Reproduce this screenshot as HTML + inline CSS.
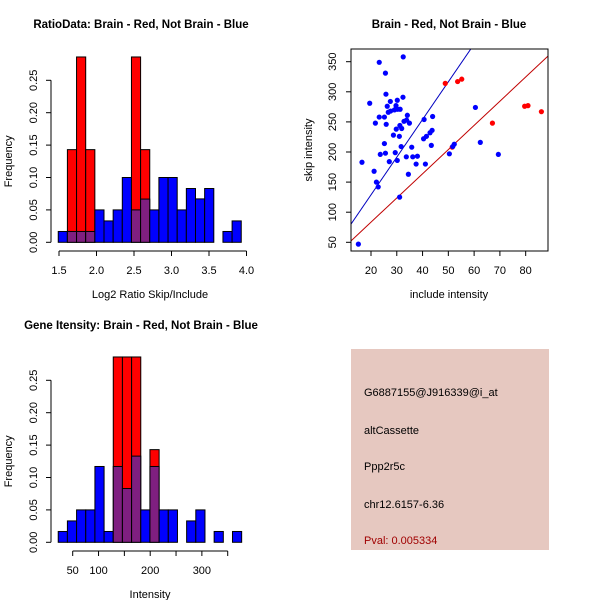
<!DOCTYPE html>
<html><head><meta charset="utf-8"><style>
html,body{margin:0;padding:0;background:#fff;}
svg{display:block;font-family:"Liberation Sans",sans-serif;}
</style></head><body>
<svg id="s" width="600" height="600" viewBox="0 0 600 600"></svg>
<script>
// ---- Data ----
const ratioBinStart = 1.49, ratioBinWidth = 0.122;
const ratioBlue = [0.0167,0.0167,0.0167,0.0167,0.05,0.033,0.05,0.10,0.05,0.0667,0.05,0.10,0.10,0.05,0.083,0.067,0.083,0,0.0167,0.033];
const ratioRed  = [0,0.143,0.286,0.143,0,0,0,0,0.286,0.143,0,0,0,0,0,0,0,0,0,0];
const ratioXTicks = [1.5,2.0,2.5,3.0,3.5,4.0];
const freqTicks = [0,0.05,0.10,0.15,0.20,0.25];
const freqTickLabels = ["0.00","0.05","0.10","0.15","0.20","0.25"];

const intBinStart = 22, intBinWidth = 17.75;
const intBlue = [0.0167,0.033,0.05,0.05,0.117,0.0167,0.117,0.083,0.133,0.05,0.117,0.05,0.05,0,0.033,0.05,0,0.0167,0,0.0167];
const intRed  = [0,0,0,0,0,0,0.286,0.286,0.286,0,0.143,0,0,0,0,0,0,0,0,0];
const intXTicks = [50,100,150,200,250,300,350];
const intXLabels = ["50","100","","200","","300",""];

const blueX = [15.1,16.5,19.5,21.2,21.7,22.1,22.8,23.2,23.2,23.6,25.2,25.2,25.6,25.6,25.8,25.9,26.3,26.7,27.1,27.5,27.6,28.7,29.1,29.4,29.7,29.8,30.2,30.2,30.3,31.0,31.1,31.2,31.3,31.7,31.9,32.4,32.5,32.8,33.7,33.8,34.1,34.5,34.9,35.8,36.2,37.5,38.0,40.6,40.4,41.1,41.5,42.9,43.4,43.7,43.9,50.4,51.7,52.3,60.5,62.4,69.4];
const blueY = [47,183,281,168,248,150,142,349,258,196,258,214,331,198,296,246,276,266,184,284,268,228,270,199,277,238,286,186,271,226,125,244,271,209,239,291,358,251,192,253,261,163,248,208,192,180,193,254,222,180,226,232,211,236,259,197,209,213,274,216,196];
const redX = [48.8,53.6,55.2,67.1,79.6,80.9,86.1,51.5];
const redY = [314,317,321,248,276,277,267,208];
const blueLine = {slope:6.26, intercept:3.6};
const redLine = {slope:4.02, intercept:3};
const scXTicks = [20,30,40,50,60,70,80];
const scYTicks = [50,100,150,200,250,300,350];

const infoLines = ["G6887155@J916339@i_at","altCassette","Ppp2r5c","chr12.6157-6.36","Pval: 0.005334"];

// ---- helpers ----
const svg = document.getElementById('s');
const NS = 'http://www.w3.org/2000/svg';
function mk(tag, attrs, parent){
  const e = document.createElementNS(NS, tag);
  for (const k in attrs) e.setAttribute(k, attrs[k]);
  (parent||svg).appendChild(e);
  return e;
}
function txt(x,y,s,size,opts,parent){
  const e = mk('text',Object.assign({x:x,y:y,'font-size':size,'text-anchor':'middle',fill:'#000'},opts||{}),parent);
  e.textContent = s;
  return e;
}

// ---- histogram ----
function hist(g, cfg){
  const y0 = cfg.y0, yPer = cfg.yPer;
  const fy = v => y0 - v*yPer;
  const fx = cfg.fx;
  for (let i=0;i<cfg.blue.length;i++){
    const a = cfg.binStart + i*cfg.binWidth, b = a + cfg.binWidth;
    const x1 = fx(a), x2 = fx(b);
    const r = cfg.red[i], bl = cfg.blue[i];
    if (r>0){
      const e = mk('rect',{x:x1,y:fy(r),width:x2-x1,height:y0-fy(r),fill:'#ff0000',stroke:'#000','stroke-width':1},g);
      
      
    }
    if (bl>0){
      const col = r>0 ? '#7f1f80' : '#0000ff';
      const e = mk('rect',{x:x1,y:fy(bl),width:x2-x1,height:y0-fy(bl),fill:col,stroke:'#000','stroke-width':1},g);
      
      
    }
  }
  const ya = mk('g',{},g);
  
  
  mk('line',{x1:51,x2:51,y1:fy(0),y2:fy(0.25),stroke:'#000'},ya);
  freqTicks.forEach((t,i)=>{
    mk('line',{x1:46,x2:51,y1:fy(t),y2:fy(t),stroke:'#000'},ya);
    txt(0,0,freqTickLabels[i],11,{transform:`translate(37,${fy(t)}) rotate(-90)`},ya);
  });
  const yt = txt(0,0,'Frequency',11,{transform:`translate(12,${fy(0.125)}) rotate(-90)`},g);
  
  
  const xa = mk('g',{},g);
  
  
  const ax = cfg.axisY;
  mk('line',{x1:fx(cfg.xTicks[0]),x2:fx(cfg.xTicks[cfg.xTicks.length-1]),y1:ax,y2:ax,stroke:'#000'},xa);
  cfg.xTicks.forEach((t,i)=>{
    mk('line',{x1:fx(t),x2:fx(t),y1:ax,y2:ax+5,stroke:'#000'},xa);
    if (cfg.xLabels[i]) txt(fx(t),ax+23,cfg.xLabels[i],11,{},xa);
  });
  const xt = txt(150,ax+47,cfg.xTitle,11,{},g);
  
  
  const tt = txt(141,cfg.titleY,cfg.title,11.5,{'font-weight':'bold'},g);
  
  
}

const g1 = mk('g',{});  
hist(g1,{y0:242.3,yPer:648,fx:v=>59+(v-1.5)*75,binStart:ratioBinStart,binWidth:ratioBinWidth,blue:ratioBlue,red:ratioRed,
  xTicks:ratioXTicks,xLabels:ratioXTicks.map(v=>v.toFixed(1)),axisY:251,xTitle:'Log2 Ratio Skip/Include',
  title:'RatioData: Brain - Red, Not Brain - Blue',titleY:28});

const g2 = mk('g',{});  
hist(g2,{y0:542.3,yPer:648,fx:v=>72.7+(v-50)*0.5167,binStart:intBinStart,binWidth:intBinWidth,blue:intBlue,red:intRed,
  xTicks:intXTicks,xLabels:intXLabels,axisY:551,xTitle:'Intensity',
  title:'Gene Itensity: Brain - Red, Not Brain - Blue',titleY:329});

// ---- scatter ----
const g3 = mk('g',{});  
const sx = v => 371 + (v-20)*2.578;
const sy = v => 242.3 - (v-50)*0.602;
const L=351,R=548,T=49,B=251;
mk('clipPath',{id:'clp'},g3).appendChild((()=>{const r=document.createElementNS(NS,'rect');r.setAttribute('x',L);r.setAttribute('y',T);r.setAttribute('width',R-L);r.setAttribute('height',B-T);return r;})());
function regLine(l,col,name){
  const xa=0,xb=100;
  const e = mk('line',{x1:sx(xa),y1:sy(l.slope*xa+l.intercept),x2:sx(xb),y2:sy(l.slope*xb+l.intercept),stroke:col,'stroke-width':1,'clip-path':'url(#clp)'},g3);
  
  
}
regLine(blueLine,'#0000c0','blue-fit-line');
regLine(redLine,'#c00000','red-fit-line');
for (let i=0;i<redX.length;i++){
  const c = mk('circle',{cx:sx(redX[i]),cy:sy(redY[i]),r:2.6,fill:'#ff0000'},g3);
  
  
}
for (let i=0;i<blueX.length;i++){
  const c = mk('circle',{cx:sx(blueX[i]),cy:sy(blueY[i]),r:2.6,fill:'#0000ff'},g3);
  
  
}
const box = mk('rect',{x:L,y:T,width:R-L,height:B-T,fill:'none',stroke:'#000'},g3);


scXTicks.forEach(t=>{
  mk('line',{x1:sx(t),x2:sx(t),y1:B,y2:B+5,stroke:'#000'},g3);
  txt(sx(t),B+23,String(t),11,{},g3);
});
scYTicks.forEach(t=>{
  mk('line',{x1:L-5,x2:L,y1:sy(t),y2:sy(t),stroke:'#000'},g3);
  txt(0,0,String(t),11,{transform:`translate(336,${sy(t)}) rotate(-90)`},g3);
});
const sxt = txt(449,298,'include intensity',11,{},g3);


const syt = txt(0,0,'skip intensity',11,{transform:`translate(312,150) rotate(-90)`},g3);


const stt = txt(449,28,'Brain - Red, Not Brain - Blue',11.5,{'font-weight':'bold'},g3);



// ---- info panel ----
const g4 = mk('g',{});  
mk('rect',{x:351,y:349,width:198,height:201,fill:'#e6c8c0'},g4);
const ys=[396,434,470,508,544];
infoLines.forEach((s,i)=>{
  const e = txt(364,ys[i],s,11,{'text-anchor':'start',fill:i===4?'#a00000':'#000'},g4);
  
  
});
</script>
</body></html>
